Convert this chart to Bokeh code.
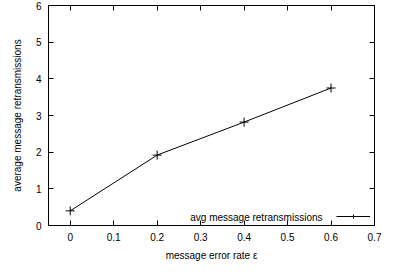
from bokeh.plotting import figure
from bokeh.models import FixedTicker, LinearAxis, Range1d, Legend, LegendItem, Label
from bokeh.core.properties import value
from bokeh.embed import file_html
from bokeh.resources import INLINE

error_rate = [0.0, 0.2, 0.4, 0.6]
avg_retrans = [0.40, 1.92, 2.82, 3.75]
x_ticks = [0, 0.1, 0.2, 0.3, 0.4, 0.5, 0.6, 0.7]
x_tick_labels = ["0", "0.1", "0.2", "0.3", "0.4", "0.5", "0.6", "0.7"]
y_ticks = [0, 1, 2, 3, 4, 5, 6]
series_name = "avg message retransmissions"

FONT = "Liberation Sans"

p = figure(width=383, height=263, output_backend="svg", toolbar_location=None,
           x_range=Range1d(-0.05, 0.7), y_range=Range1d(0, 6),
           min_border_left=48, min_border_right=9, min_border_top=5, min_border_bottom=36)
p.outline_line_color = "black"
p.outline_line_width = 1
p.xgrid.visible = False
p.ygrid.visible = False
p.background_fill_color = "white"
p.border_fill_color = "white"

def style_axis(ax, show_labels):
    ax.axis_line_color = "black"
    ax.major_tick_in = 5
    ax.major_tick_out = 0
    ax.minor_tick_line_color = None
    ax.major_tick_line_color = "black"
    ax.major_label_text_font = FONT
    ax.major_label_text_font_size = "10px"
    ax.major_label_text_color = "black"
    ax.major_label_standoff = 7
    ax.axis_label_text_font = FONT
    ax.axis_label_text_font_size = "10px"
    ax.axis_label_text_font_style = "normal"
    ax.axis_label_text_color = "black"
    ax.axis_label_standoff = 6
    if not show_labels:
        ax.major_label_text_font_size = "0px"
        ax.major_label_text_color = None

p.xaxis.ticker = FixedTicker(ticks=x_ticks)
p.xaxis.major_label_overrides = {t: s for t, s in zip(x_ticks, x_tick_labels)}
p.yaxis.ticker = FixedTicker(ticks=y_ticks)
p.xaxis.axis_label = "message error rate \u03b5"
p.yaxis.axis_label = "average message retransmissions"
style_axis(p.xaxis[0], True)
style_axis(p.yaxis[0], True)
p.yaxis[0].axis_label_standoff = 10

top_ax = LinearAxis(ticker=FixedTicker(ticks=x_ticks))
style_axis(top_ax, False)
p.add_layout(top_ax, "above")
right_ax = LinearAxis(ticker=FixedTicker(ticks=y_ticks))
style_axis(right_ax, False)
p.add_layout(right_ax, "right")

ln = p.line(error_rate, avg_retrans, line_color="black", line_width=1)
sc = p.scatter(error_rate, avg_retrans, marker="cross", size=9, line_color="black", line_width=1)

legend = Legend(items=[LegendItem(label=value(""), renderers=[ln, sc])],
                location="bottom_right", border_line_color=None, background_fill_alpha=0,
                glyph_width=34, glyph_height=10, label_width=0, padding=2, margin=4,
                label_standoff=0, spacing=0)
p.add_layout(legend)

lbl = Label(x=274, y=3, x_units="screen", y_units="screen", text=series_name,
            text_font=FONT, text_font_size="10px", text_align="right", text_color="black")
p.add_layout(lbl)

open("out.html", "w").write(file_html(p, INLINE))
